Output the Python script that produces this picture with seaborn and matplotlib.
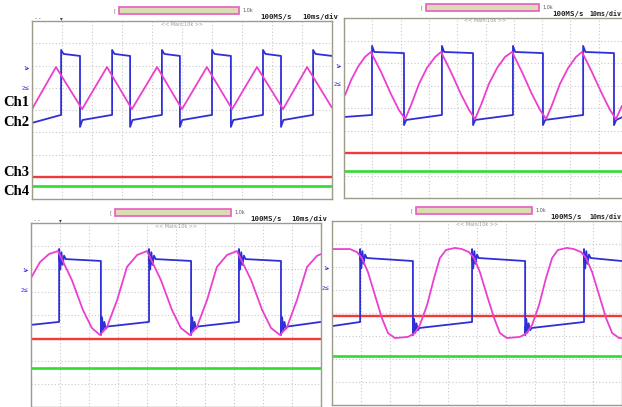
import matplotlib
matplotlib.use("Agg")
import matplotlib.pyplot as plt
from matplotlib.patches import Rectangle
import seaborn as sns

sns.set_style("white")

# ---- values read off the four scope screens (time in div, level in div from bottom) ----
# panel 1 (top left)
p1_mag_t = [0, 0.8, 1.67, 2.5, 3.33, 4.17, 5.0, 5.83, 6.67, 7.5, 8.37, 9.17, 10.0]
p1_mag_v = [4.04, 5.93, 4.04, 5.93, 4.04, 5.93, 4.04, 5.93, 4.04, 5.93, 4.04, 5.93, 4.1]
p1_rise = [0.97, 2.67, 4.33, 6.00, 7.70, 9.37]
p1_fall = [1.60, 3.27, 4.93, 6.63, 8.30]
p1_blue_lv = [3.42, 3.55, 3.78, 3.24, 6.70, 6.52, 6.43]   # start, low, low_end, low_spike, hi_spike, hi, hi_end
p1_red = 0.99
p1_green = 0.58

# panel 2 (top right)
p2_mag_t = [0.04, 0.25, 0.49, 0.74, 0.95, 1.31, 1.66, 1.94, 2.16, 2.37, 2.65, 2.93, 3.22, 3.43,
            3.78, 4.13, 4.42, 4.63, 4.84, 5.12, 5.41, 5.69, 5.94, 6.29, 6.64, 6.93, 7.14,
            7.35, 7.63, 7.92, 8.20, 8.41, 8.76, 9.12, 9.40, 9.61, 9.82]
p2_mag_v = [4.58, 5.24, 5.82, 6.27, 6.49, 5.60, 4.62, 3.91, 3.51, 4.13, 5.07, 5.78, 6.27, 6.49,
            5.60, 4.62, 3.91, 3.51, 4.13, 5.07, 5.78, 6.27, 6.49, 5.60, 4.62, 3.91, 3.51,
            4.13, 5.07, 5.78, 6.27, 6.49, 5.60, 4.62, 3.91, 3.51, 4.09]
p2_rise = [0.99, 3.46, 5.97, 8.45]
p2_fall = [2.12, 4.56, 7.03, 9.54]
p2_blue_lv = [3.60, 3.47, 3.69, 3.24, 6.76, 6.49, 6.44]
p2_red = 2.0
p2_green = 1.2

# panel 3 (bottom left)
p3_mag_t = [0.00, 0.31, 0.62, 0.93, 1.41, 1.79, 2.10, 2.38, 2.62, 2.97, 3.31, 3.66, 4.00,
            4.48, 4.86, 5.17, 5.48, 5.72, 6.07, 6.41, 6.76, 7.10, 7.59, 7.97, 8.28, 8.59,
            8.83, 9.17, 9.52, 9.86, 10.0]
p3_mag_v = [5.61, 6.30, 6.65, 6.78, 5.52, 4.22, 3.43, 3.13, 3.48, 4.65, 6.09, 6.61, 6.78,
            5.52, 4.22, 3.43, 3.13, 3.48, 4.65, 6.09, 6.61, 6.78, 5.52, 4.22, 3.43, 3.13,
            3.48, 4.65, 6.09, 6.57, 6.65]
p3_rise = [0.97, 4.07, 7.17]
p3_fall = [2.41, 5.52, 8.62]
p3_blue_lv = [3.57, 3.50, 3.70, 3.13, 6.87, 6.43, 6.35]
p3_red = 2.96
p3_green = 1.70

# panel 4 (bottom right)
p4_mag_t = [0, 0.62, 0.86, 1.03, 1.24, 1.48, 1.72, 1.93, 2.17, 2.62, 2.86, 3.03, 3.28, 3.52,
            3.72, 3.93, 4.24, 4.48, 4.72, 4.90, 5.10, 5.34, 5.59, 5.79, 6.03, 6.48, 6.72,
            6.90, 7.14, 7.38, 7.59, 7.79, 8.10, 8.34, 8.59, 8.76, 8.97, 9.21, 9.45, 9.66,
            9.90, 10.0]
p4_mag_v = [6.78, 6.78, 6.65, 6.39, 5.78, 4.78, 3.78, 3.13, 2.91, 2.96, 3.13, 3.48, 4.35, 5.52,
            6.39, 6.74, 6.83, 6.78, 6.65, 6.39, 5.78, 4.78, 3.78, 3.13, 2.91, 2.96, 3.13,
            3.48, 4.35, 5.52, 6.39, 6.74, 6.83, 6.78, 6.65, 6.39, 5.78, 4.78, 3.78, 3.13,
            2.91, 2.91]
p4_rise = [0.97, 4.83, 8.69]
p4_fall = [2.79, 6.66]
p4_blue_lv = [3.43, 3.35, 3.61, 3.04, 6.78, 6.39, 6.26]
p4_red = 3.87
p4_green = 2.13

# ringing right after the edges (offset in div, level offset in div), panels 3 and 4
ring_t = [0.04, 0.08, 0.12, 0.17, 0.23]
ring_hi = [-0.45, 0.30, -0.25, 0.15, 0.0]
ring_lo = [0.40, -0.20, 0.20, -0.10, 0.0]

ch_labels = ["Ch1", "Ch2", "Ch3", "Ch4"]
rate_label = "100MS/s"
div_label = "10ms/div"

BLUE = "#2f2fd8"
MAGENTA = "#ec3fcf"
RED = "#ee3a3a"
GREEN = "#2fdd2f"


def square_path(rises, falls, lv, ringing=False):
    start, lo, lo_end, lo_spk, hi_spk, hi, hi_end = lv
    edges = sorted([(r, 1) for r in rises] + [(f, 0) for f in falls])
    t, v = [0.0], [start]
    state = 0
    for e, up in edges:
        if up:
            t += [e, e]
            v += [lo_end, hi_spk]
            if ringing:
                t += [e + d for d in ring_t]
                v += [hi + d for d in ring_hi]
            else:
                t.append(e + 0.08)
                v.append(hi)
        else:
            t += [e, e]
            v += [hi_end, lo_spk]
            if ringing:
                t += [e + d for d in ring_t]
                v += [lo + d for d in ring_lo]
            else:
                t.append(e + 0.08)
                v.append(lo)
        state = up
    t.append(10.0)
    v.append(hi_end if state else lo_end)
    return t, v


fig = plt.figure(figsize=(6.22, 4.07), dpi=100)
W, H = 622.0, 407.0


def fx(px):
    return px / W


def fy(py):
    return 1 - py / H


panels = [
    # left, top, width, height (px), data..., ringing, trigger marks, rate x, div x (px, None = right edge)
    (32, 21, 300, 178, p1_mag_t, p1_mag_v, p1_rise, p1_fall, p1_blue_lv, p1_red, p1_green, False, True, 260, 302),
    (344, 18, 283, 180, p2_mag_t, p2_mag_v, p2_rise, p2_fall, p2_blue_lv, p2_red, p2_green, False, False, 552, None),
    (31, 223, 290, 184, p3_mag_t, p3_mag_v, p3_rise, p3_fall, p3_blue_lv, p3_red, p3_green, True, True, 250, 291),
    (332, 221, 290, 184, p4_mag_t, p4_mag_v, p4_rise, p4_fall, p4_blue_lv, p4_red, p4_green, True, False, 550, None),
]

for (l, tp, w, h, mt, mv, rs, fl, blv, red, green, ring, trig, rate_x, div_x) in panels:
    ax = fig.add_axes([fx(l), fy(tp + h), w / W, h / H])
    ax.set_xticks(range(11))
    ax.set_yticks(range(9))
    ax.tick_params(length=0, labelbottom=False, labelleft=False)
    ax.grid(True, color="#c8c8c8", linestyle=(0, (1, 2)), linewidth=0.8)
    for s in ax.spines.values():
        s.set_color("#9c9c88")
        s.set_linewidth(1.0)

    sns.lineplot(x=[0, 10], y=[red, red], color=RED, lw=1.7, ax=ax)
    sns.lineplot(x=[0, 10], y=[green, green], color=GREEN, lw=1.9, ax=ax)
    bt, bv = square_path(rs, fl, blv, ring)
    sns.lineplot(x=bt, y=bv, sort=False, estimator=None, color=BLUE, lw=1.3, ax=ax)
    sns.lineplot(x=mt, y=mv, sort=False, estimator=None, color=MAGENTA, lw=1.3, ax=ax)
    ax.set_xlim(0, 10)
    ax.set_ylim(0, 8)

    # header: record bar, sample rate, time base
    bar_l = l + 0.29 * w
    bar_w = 0.40 * w
    bar_y = tp - 14
    fig.patches.append(Rectangle((fx(bar_l), fy(bar_y + 7)), bar_w / W, 7 / H,
                                 transform=fig.transFigure, facecolor="#dcdcb4",
                                 edgecolor="#e85cc4", lw=1.2))
    fig.text(fx(bar_l - 3), fy(bar_y + 3.5), "[", fontsize=4, color="#777777",
             va="center", ha="right")
    fig.text(fx(bar_l + bar_w + 3), fy(bar_y + 3.5), "1.0k", fontsize=3.5,
             color="#555555", va="center")
    fig.text(fx(rate_x), fy(tp - 4), rate_label, fontsize=5.3, weight="bold",
             family="DejaVu Sans Mono", color="#222222", va="center")
    if div_x is None:
        fig.text(fx(W - 1), fy(tp - 4), div_label, fontsize=4.8, weight="bold",
                 family="DejaVu Sans Mono", color="#222222", va="center", ha="right")
    else:
        fig.text(fx(div_x), fy(tp - 4), div_label, fontsize=5.3, weight="bold",
                 family="DejaVu Sans Mono", color="#222222", va="center")
    fig.text(fx(l + 0.5 * w), fy(tp + 3), "<< Main:10k >>", fontsize=3.5,
             color="#999999", ha="center", va="center")
    if trig:
        fig.text(fx(l + 3), fy(tp - 2), "- -", fontsize=4, color="#444444", va="center")
        fig.text(fx(l + 28), fy(tp - 2), "\u25be", fontsize=4, color="#444444", va="center")
    # channel markers on the left edge
    fig.text(fx(l - 2), fy(tp + 48), "1\u25b8", fontsize=4, color=BLUE,
             ha="right", va="center")
    fig.text(fx(l - 2), fy(tp + 67), "2\u2264", fontsize=4, color=BLUE,
             ha="right", va="center")

for lab, py in zip(ch_labels, [103, 123, 173, 191]):
    fig.text(fx(3), fy(py), lab, fontsize=10.5, weight="bold",
             family="Liberation Serif", color="black", va="center")

fig.savefig("out.png", dpi=100)
